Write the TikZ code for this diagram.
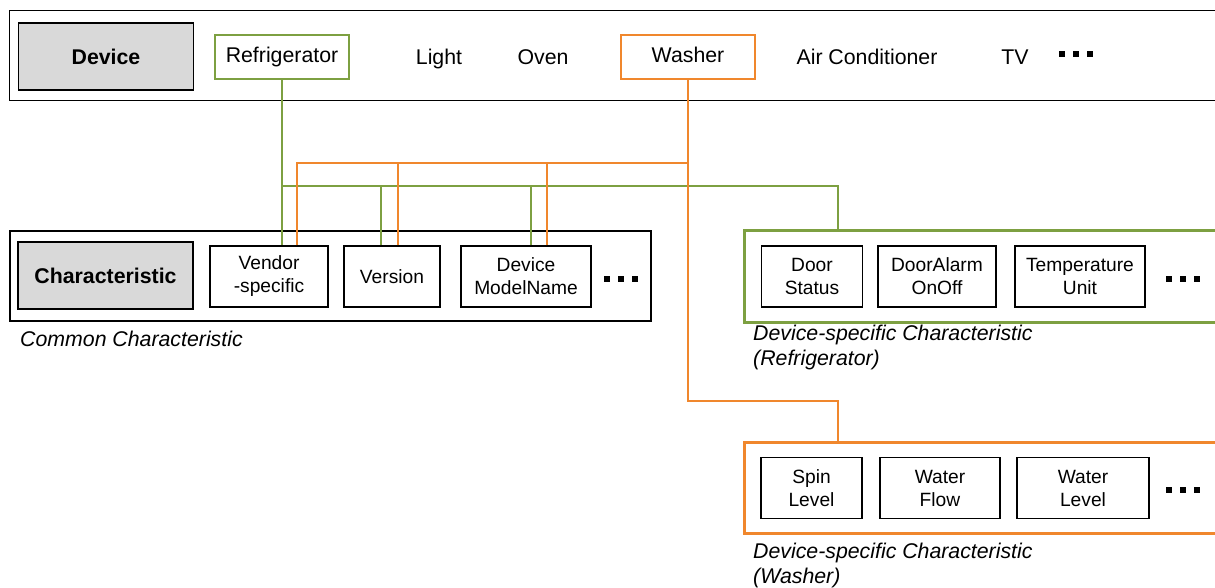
\documentclass[tikz,border=0pt]{standalone}
\usepackage{fontspec}
\setmainfont{Liberation Sans}
\usetikzlibrary{calc}
\definecolor{grn}{RGB}{125,160,65}
\definecolor{org}{RGB}{240,135,45}
\newcommand{\sqdots}{\rule{6pt}{6pt}\hspace{8pt}\rule{6pt}{6pt}\hspace{8pt}\rule{6pt}{6pt}}

\begin{document}
\begin{tikzpicture}[x=1pt,y=-1pt,
  big/.style={font=\fontsize{21.3}{23}\selectfont, text height=16pt, text depth=5pt},
  head/.style={draw, fill=black!15, line width=1.3pt, minimum width=175pt, minimum height=67pt, font=\fontsize{21.3}{23}\selectfont\bfseries},
  item/.style={draw, line width=1.3pt, minimum height=61pt, align=center, inner sep=0pt, font=\fontsize{19.2}{23}\selectfont},
  frame/.style={draw, line width=1.5pt, anchor=north west, inner sep=0pt},
  lab/.style={anchor=west, align=left, inner sep=0pt, font=\fontsize{21.3}{25}\selectfont\itshape},
  gline/.style={grn, line width=2.2pt},
  oline/.style={org, line width=2.2pt}]
\useasboundingbox (0,0) rectangle (1215,588);
\clip (0,0) rectangle (1215,588);
\node[frame, line width=1.3pt, minimum width=1230pt, minimum height=90pt] (row) at (9,10) {};
\node[head] (dev) at (106,56.5) {Device};
\node[big, draw=grn, line width=2.5pt, minimum width=134pt, minimum height=44pt] (ref) at (282,57) {Refrigerator};
\node[big] (lgt) at (439,59) {Light};
\node[big] (ovn) at (543,59) {Oven};
\node[big, draw=org, line width=2.5pt, minimum width=134pt, minimum height=44pt] (was) at (688,57) {Washer};
\node[big] (air) at (867,59) {Air Conditioner};
\node[big] (tv) at (1015,59) {TV};
\node[inner sep=0pt] (tdots) at (1076,54) {\sqdots};
\node[frame, minimum width=641pt, minimum height=90pt] (cfrm) at (9,230) {};
\node[head] (chr) at (105.5,275.5) {Characteristic};
\node[item, minimum width=118pt] (vnd) at (269,276.5) {Vendor\\-specific};
\node[item, minimum width=96pt] (ver) at (392,276.5) {Version};
\node[item, minimum width=130pt] (dmn) at (526,276.5) {Device\\ModelName};
\node[inner sep=0pt] (cdots) at (621,279) {\sqdots};
\node[lab] (clab) at (20,339) {Common Characteristic};
\node[frame, draw=grn, line width=2.5pt, minimum width=500pt, minimum height=92pt] (rfrm) at (743,229) {};
\node[item, minimum width=101pt] (dst) at (812,276.5) {Door\\Status};
\node[item, minimum width=118pt] (dal) at (937,276.5) {DoorAlarm\\OnOff};
\node[item, minimum width=130pt] (tmp) at (1080,276.5) {Temperature\\Unit};
\node[inner sep=0pt] (rdots) at (1183,279) {\sqdots};
\node[lab] (rlab) at (753,347) {Device-specific Characteristic\\(Refrigerator)};
\node[frame, draw=org, line width=2.5pt, minimum width=500pt, minimum height=91pt] (wfrm) at (743,441) {};
\node[item, minimum width=101pt] (spn) at (811.5,488) {Spin\\Level};
\node[item, minimum width=120pt] (wfl) at (940,488) {Water\\Flow};
\node[item, minimum width=132pt] (wlv) at (1083,488) {Water\\Level};
\node[inner sep=0pt] (wdots) at (1183,490) {\sqdots};
\node[lab] (wlab) at (753,565) {Device-specific Characteristic\\(Washer)};
\coordinate (gbus) at (0,186);
\coordinate (obus) at (0,163);
\coordinate (obend) at (0,401);
\coordinate (rtap) at ([xshift=95pt]rfrm.north west);
\coordinate (wtap) at ([xshift=95pt]wfrm.north west);
\coordinate (vno) at ([xshift=28pt]vnd.north);
\coordinate (verg) at ([xshift=-11pt]ver.north);
\coordinate (vero) at ([xshift=6pt]ver.north);
\coordinate (dmng) at ([xshift=5pt]dmn.north);
\coordinate (dmno) at ([xshift=21pt]dmn.north);
\draw[gline] (ref.south) -- (ref.south |- vnd.north);
\draw[gline] (ref.south |- gbus) -| (rtap);
\draw[gline] (verg) -- (verg |- gbus);
\draw[gline] (dmng) -- (dmng |- gbus);
\draw[oline] (was.south) -- (was.south |- obend) -| (wtap);
\draw[oline] (vno) |- (was.south |- obus);
\draw[oline] (vero) -- (vero |- obus);
\draw[oline] (dmno) -- (dmno |- obus);
\end{tikzpicture}
\end{document}
